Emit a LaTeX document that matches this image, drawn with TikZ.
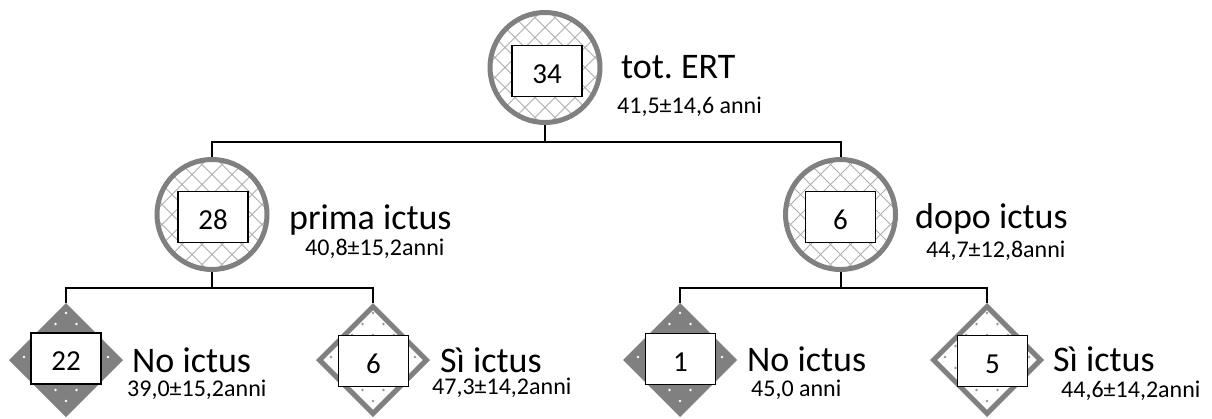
\documentclass[tikz,border=0pt]{standalone}
\usepackage{fontspec}
\setmainfont{Carlito}
\usetikzlibrary{shapes.geometric}

\definecolor{ringgray}{RGB}{128,128,128}
\definecolor{hatchgray}{RGB}{175,175,175}
\definecolor{dotgray}{RGB}{150,150,150}

\tikzset{
  hatchline/.style={draw=hatchgray, line width=1pt},
  % circle with a light diagonal cross-hatch
  ring/.style={circle, minimum size=110pt, inner sep=0pt, draw=ringgray,
    line width=5pt, fill=white,
    path picture={
      \begin{scope}[shift={(path picture bounding box.center)}]
        \foreach \k in {-7,...,7}{
          \draw[hatchline] (\k*20-70,-70) -- ++(140,140);
          \draw[hatchline] (\k*20-70,70) -- ++(140,-140);
        }
      \end{scope}}},
  % staggered dot lattice drawn inside a diamond
  dotfill/.style={
    path picture={
      \begin{scope}[shift={(path picture bounding box.center)}]
        \foreach \j in {-4,-2,0,2,4}{\foreach \i in {-3,...,3}{
          \fill[#1] (\i*21,\j*11-3) circle (1.4pt);}}
        \foreach \j in {-3,-1,1,3}{\foreach \i in {-3,...,2}{
          \fill[#1] (\i*21+10.5,\j*11-3) circle (1.4pt);}}
      \end{scope}}},
  darkgem/.style={diamond, aspect=1, minimum size=109pt, inner sep=0pt,
    draw=ringgray, line width=5pt, fill=ringgray, dotfill=white},
  lightgem/.style={diamond, aspect=1, minimum size=109pt, inner sep=0pt,
    draw=ringgray, line width=5pt, fill=white, dotfill=dotgray},
  countbox/.style={draw=black, line width=1.5pt, fill=white,
    minimum width=70pt, minimum height=51pt, inner sep=0pt,
    text height=24pt, text depth=0pt,
    font=\fontsize{29}{33}\selectfont},
  bigtxt/.style={anchor=base west, inner sep=0pt, font=\fontsize{36}{40}\selectfont},
  smalltxt/.style={anchor=base west, inner sep=0pt, font=\fontsize{24}{28}\selectfont},
  wire/.style={draw=black, line width=2pt},
}

\begin{document}
\begin{tikzpicture}[x=1pt, y=-1pt]
  \useasboundingbox (0,0) rectangle (1212,418);

  % ---- level 0 ----
  \node[ring] (top) at (545,67.5) {};
  \node[countbox] (ntop) at (547,71) {34};
  \node[bigtxt] (ttop) at (621,78) {tot.\ ERT};
  \node[smalltxt] (atop) at (617,113) {41,5±14,6 anni};

  % ---- level 1 ----
  \node[ring] (pl) at (212,214.5) {};
  \node[countbox] (npl) at (213,217) {28};
  \node[bigtxt] (tpl) at (289,229) {prima ictus};
  \node[smalltxt] (apl) at (305,255) {40,8±15,2anni};

  \node[ring] (pr) at (840.5,214.5) {};
  \node[countbox] (npr) at (840.5,217) {6};
  \node[bigtxt] (tpr) at (915,228) {dopo ictus};
  \node[smalltxt] (apr) at (926,257) {44,7±12,8anni};

  % ---- level 2 ----
  \node[darkgem] (d1) at (66,360) {};
  \node[countbox] (n1) at (66,358.5) {22};
  \node[bigtxt] (t1) at (132,372) {No ictus};
  \node[smalltxt] (a1) at (127,396) {39,0±15,2anni};

  \node[lightgem] (d2) at (373,360) {};
  \node[countbox] (n2) at (373.5,361) {6};
  \node[bigtxt] (t2) at (440,372) {Sì ictus};
  \node[smalltxt] (a2) at (432,394) {47,3±14,2anni};

  \node[darkgem] (d3) at (680,360) {};
  \node[countbox] (n3) at (680.5,359) {1};
  \node[bigtxt] (t3) at (747,371) {No ictus};
  \node[smalltxt] (a3) at (751,396) {45,0 anni};

  \node[lightgem] (d4) at (987,360) {};
  \node[countbox] (n4) at (992.5,361) {5};
  \node[bigtxt] (t4) at (1053,371) {Sì ictus};
  \node[smalltxt] (a4) at (1061,397) {44,6±14,2anni};

  % ---- connectors ----
  \coordinate (bus0) at (545,142);
  \coordinate (busL) at (212,288);
  \coordinate (busR) at (840.5,288);

  \draw[wire] (top.south) |- (bus0) -| (pl.north);
  \draw[wire] (bus0) -| (pr.north);
  \draw[wire] (pl.south) |- (busL) -| (d1.north);
  \draw[wire] (busL) -| (d2.north);
  \draw[wire] (pr.south) |- (busR) -| (d3.north);
  \draw[wire] (busR) -| (d4.north);
\end{tikzpicture}
\end{document}
